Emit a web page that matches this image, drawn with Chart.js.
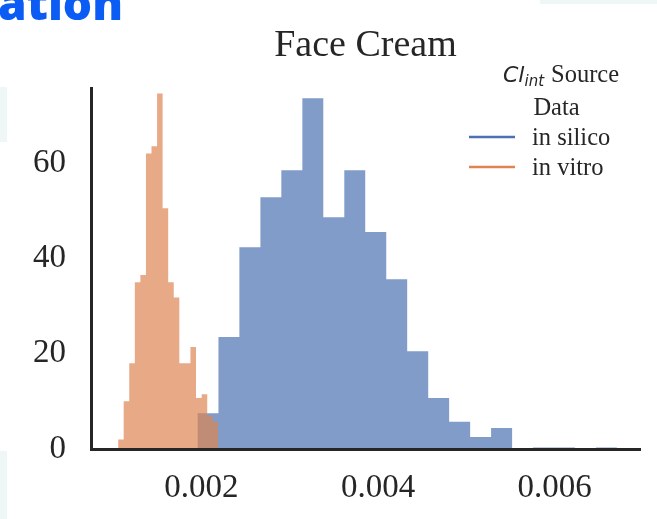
<!DOCTYPE html>
<html>
<head>
<meta charset="utf-8">
<style>
  html, body { margin: 0; padding: 0; background: #ffffff; overflow: hidden; }
  #wrap { position: relative; width: 657px; height: 519px; }
  #chart { position: absolute; left: 0; top: 0; }
  .patch { position: absolute; background: #eef7f6; }
</style>
<script src="https://cdn.jsdelivr.net/npm/chart.js@4/dist/chart.umd.min.js"></script>
</head>
<body>
<div id="wrap">
  <div class="patch" style="left:540px;top:0;width:117px;height:4px"></div>
  <div class="patch" style="left:0;top:87px;width:7px;height:55px"></div>
  <div class="patch" style="left:0;top:451px;width:7px;height:68px"></div>
  <canvas id="chart" width="657" height="519"></canvas>
</div>
<script>
// ---------- data ----------
const chartTitle = 'Face Cream';
const headerFragment = 'ation';
const legendTitleItalic = 'Cl';
const legendTitleSub = 'int';
const legendTitleRest = 'Source';
const legendTitleLine2 = 'Data';
const seriesLabels = ['in silico', 'in vitro'];

const xTickValues = [0.002, 0.004, 0.006];
const yTickValues = [0, 20, 40, 60];

// in silico histogram: bin edges and counts
const inSilicoBinEdges = [0.001955, 0.002193, 0.002430, 0.002668, 0.002905, 0.003143, 0.003380,
  0.003618, 0.003855, 0.004093, 0.004330, 0.004568, 0.004805, 0.005043, 0.005280, 0.005518,
  0.005755, 0.005993, 0.006230, 0.006468, 0.006705];
const inSilicoCounts = [7.5, 23.5, 42.3, 52.8, 58.5, 73.6, 48.6, 58.5, 45.5, 35.6, 20.5, 10.7,
  5.7, 2.5, 4.4, 0, 0.3, 0.3, 0, 0.3];

// in vitro histogram: bin edges and counts
const inVitroBinEdges = [0.001057, 0.001120, 0.001183, 0.001246, 0.001309, 0.001372, 0.001435,
  0.001498, 0.001561, 0.001624, 0.001687, 0.001750, 0.001813, 0.001876, 0.001939, 0.002003,
  0.002066, 0.002129, 0.002192];
const inVitroCounts = [2, 10, 18, 35, 36.5, 62, 63.5, 74.6, 50.5, 35, 31.8, 18, 18, 21.4, 10.7,
  11.5, 7, 5.7];

const xRange = [0.00075, 0.006966];
const yRange = [0, 75.73];

// ---------- style ----------
const TEXT = '#262626';
const SERIF = '"Liberation Serif", "Times New Roman", serif';
const lineColors = ['#4c72b0', '#dd8452'];
const fillColors = ['rgba(76,114,176,0.7)', 'rgba(221,132,82,0.7)'];

function histPoints(edges, counts) {
  return edges.map((e, i) => ({ x: e, y: i < counts.length ? counts[i] : 0 }));
}

const textPlugin = {
  id: 'textPlugin',
  afterDraw(chart) {
    const ctx = chart.ctx;
    const a = chart.chartArea;
    ctx.save();
    ctx.textBaseline = 'alphabetic';

    // header fragment (cropped heading of the page)
    ctx.fillStyle = '#0b5cf5';
    ctx.font = '800 46px "Open Sans", sans-serif';
    ctx.textAlign = 'right';
    ctx.fillText(headerFragment, 123, 20);

    // title
    ctx.fillStyle = TEXT;
    ctx.font = '38px ' + SERIF;
    ctx.textAlign = 'center';
    ctx.fillText(chartTitle, (a.left + a.right) / 2, 56);

    // legend title
    ctx.textAlign = 'left';
    let x = 503;
    ctx.font = 'italic 22px "DejaVu Sans", sans-serif';
    ctx.fillText(legendTitleItalic, x, 82);
    x += ctx.measureText(legendTitleItalic).width;
    ctx.font = 'italic 15px "DejaVu Sans", sans-serif';
    ctx.fillText(legendTitleSub, x, 86);
    ctx.font = '24.5px ' + SERIF;
    ctx.fillText(legendTitleRest, 551, 82);
    ctx.textAlign = 'center';
    ctx.fillText(legendTitleLine2, 556.5, 115);

    // legend entries
    ctx.textAlign = 'left';
    const rows = [145, 175];
    seriesLabels.forEach((lab, i) => {
      const yb = rows[i];
      ctx.strokeStyle = lineColors[i];
      ctx.lineWidth = 2.6;
      ctx.beginPath();
      ctx.moveTo(469, yb - 8);
      ctx.lineTo(515, yb - 8);
      ctx.stroke();
      ctx.fillStyle = TEXT;
      ctx.fillText(lab, 532, yb);
    });
    ctx.restore();
  }
};

const chart = new Chart(document.getElementById('chart'), {
  type: 'line',
  data: {
    datasets: [
      {
        label: seriesLabels[0],
        data: histPoints(inSilicoBinEdges, inSilicoCounts),
        stepped: 'before',
        fill: 'origin',
        backgroundColor: fillColors[0],
        borderColor: 'rgba(0,0,0,0)',
        borderWidth: 0,
        pointRadius: 0,
        order: 2
      },
      {
        label: seriesLabels[1],
        data: histPoints(inVitroBinEdges, inVitroCounts),
        stepped: 'before',
        fill: 'origin',
        backgroundColor: fillColors[1],
        borderColor: 'rgba(0,0,0,0)',
        borderWidth: 0,
        pointRadius: 0,
        order: 1
      }
    ]
  },
  options: {
    responsive: false,
    animation: false,
    devicePixelRatio: 1,
    layout: { padding: { top: 88, right: 17, left: 0, bottom: 0 } },
    plugins: {
      legend: { display: false },
      title: { display: false },
      tooltip: { enabled: false }
    },
    scales: {
      x: {
        type: 'linear',
        min: xRange[0],
        max: xRange[1],
        grid: { display: false, drawTicks: false },
        border: { display: true, color: TEXT, width: 3, z: 1 },
        ticks: {
          color: TEXT,
          font: { family: SERIF, size: 33 },
          padding: 20,
          maxRotation: 0,
          autoSkip: false,
          callback: v => v.toFixed(3)
        },
        afterBuildTicks: s => { s.ticks = xTickValues.map(v => ({ value: v })); },
        afterFit: s => { s.height = 70; }
      },
      y: {
        type: 'linear',
        min: yRange[0],
        max: yRange[1],
        grid: { display: false, drawTicks: false },
        border: { display: true, color: TEXT, width: 3, z: 1 },
        ticks: {
          color: TEXT,
          font: { family: SERIF, size: 33 },
          padding: 25,
          autoSkip: false,
          callback: v => String(v)
        },
        afterBuildTicks: s => { s.ticks = yTickValues.map(v => ({ value: v })); },
        afterFit: s => { s.width = 91; }
      }
    }
  },
  plugins: [textPlugin]
});
</script>
</body>
</html>
